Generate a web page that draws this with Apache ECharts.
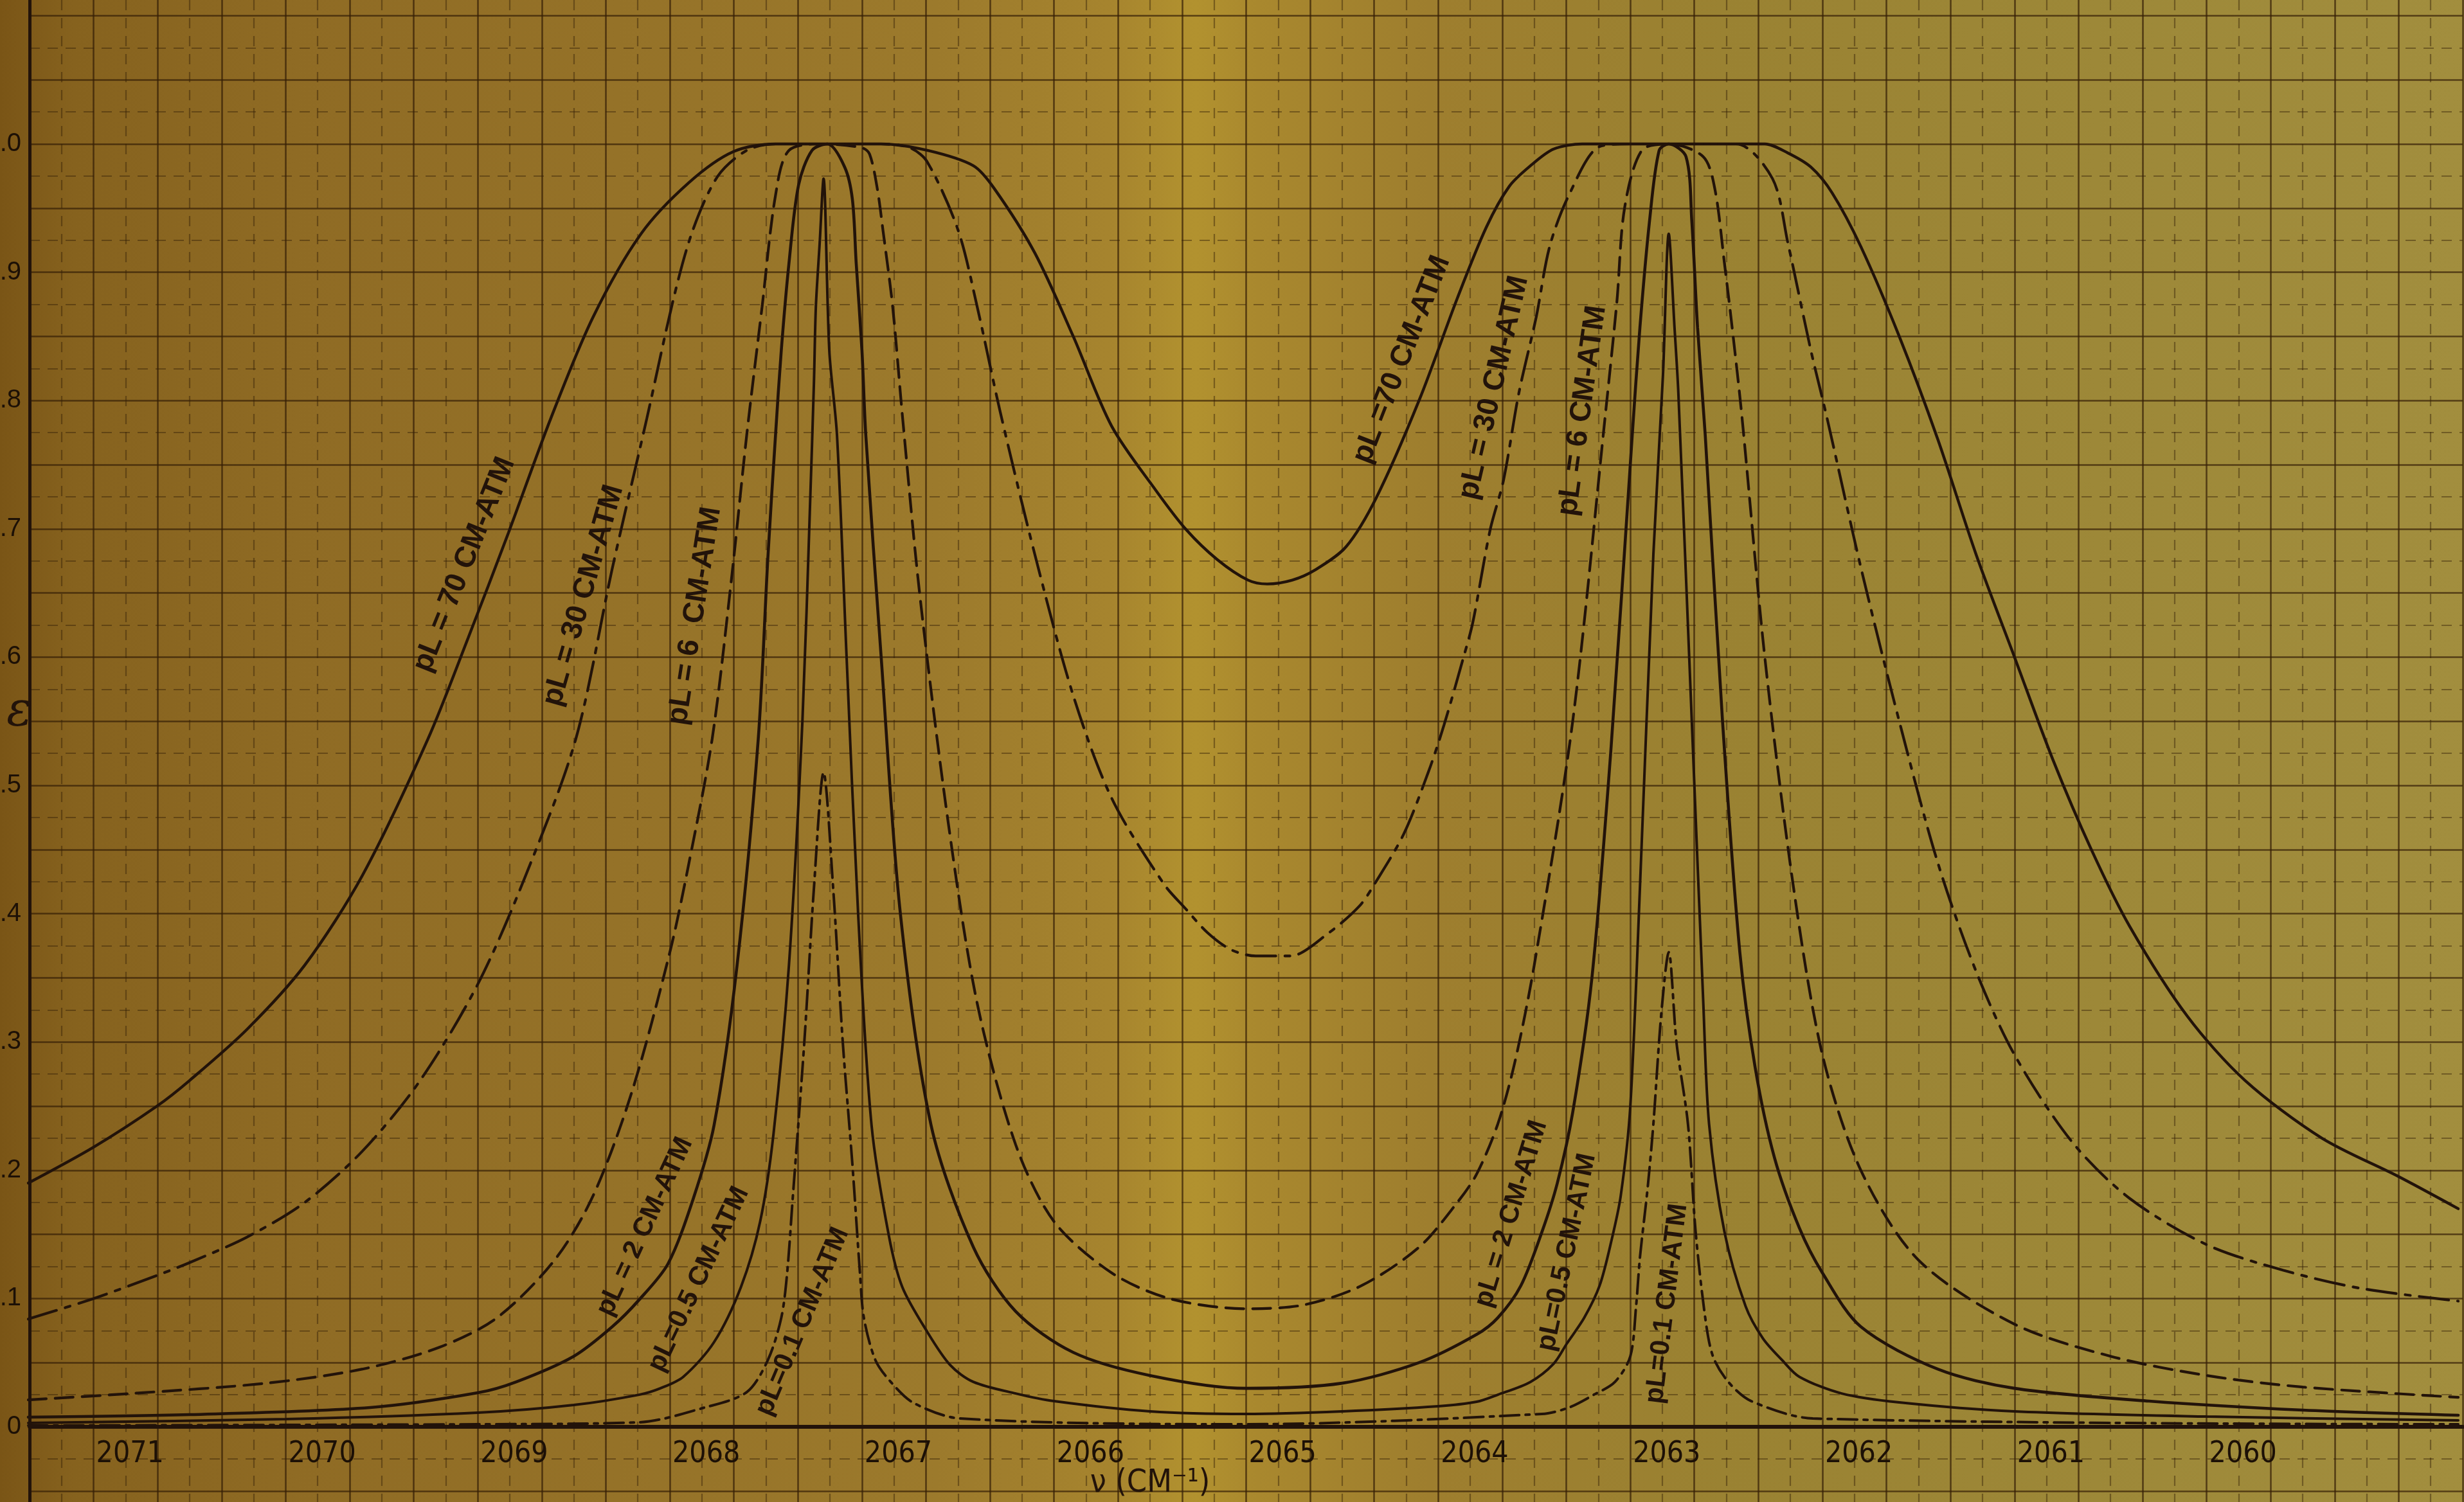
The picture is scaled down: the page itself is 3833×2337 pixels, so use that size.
<!DOCTYPE html>
<html><head><meta charset="utf-8">
<script src="https://cdn.jsdelivr.net/npm/echarts/dist/echarts.min.js"></script>
<style>
html,body{margin:0;padding:0;width:3833px;height:2337px;overflow:hidden;}
#c{width:3833px;height:2337px;background:linear-gradient(90deg,#7a5516 0%,#86621e 3%,#8f6b24 12%,#957228 25%,#9c7a2c 38%,#a6842e 45%,#b2922f 48.5%,#a9882e 51%,#9e7e2e 58%,#9a8232 70%,#9d8838 85%,#a28e3e 100%);}
</style></head><body><div id="c"></div>
<script>
// ---- data (wavenumber cm^-1, emissivity) ----
const wavenumberTicks = [2071,2070,2069,2068,2067,2066,2065,2064,2063,2062,2061,2060];
const emissivityTicks = [0,0.1,0.2,0.3,0.4,0.5,0.6,0.7,0.8,0.9,1.0];
const emissivityTickText = ['0','.1','.2','.3','.4','.5','.6','.7','.8','.9','1.0'];

const pL70 = [[2071.34,0.19],[2071.0,0.218],[2070.67,0.25],[2070.5,0.27],[2070.2,0.31],[2069.9,0.36],[2069.6,0.43],[2069.26,0.536],[2069.05,0.615],[2068.84,0.697],[2068.62,0.786],[2068.4,0.865],[2068.15,0.93],[2067.9,0.97],[2067.67,0.994],[2067.45,1.0],[2066.9,1.0],[2066.66,0.995],[2066.42,0.983],[2066.31,0.965],[2066.1,0.915],[2065.9,0.85],[2065.7,0.78],[2065.47,0.73],[2065.31,0.699],[2065.15,0.676],[2064.99,0.66],[2064.89,0.657],[2064.76,0.66],[2064.64,0.668],[2064.48,0.686],[2064.32,0.725],[2064.1,0.80],[2063.9,0.88],[2063.75,0.935],[2063.63,0.967],[2063.52,0.983],[2063.40,0.996],[2063.25,1.0],[2062.3,1.0],[2062.18,0.993],[2062.06,0.982],[2061.95,0.962],[2061.8,0.92],[2061.6,0.85],[2061.4,0.77],[2061.2,0.68],[2061.0,0.60],[2060.8,0.52],[2060.6,0.45],[2060.4,0.39],[2060.1,0.32],[2059.8,0.27],[2059.4,0.225],[2059.0,0.195],[2058.69,0.17]];

const pL30 = [[2071.34,0.084],[2071.0,0.1],[2070.67,0.118],[2070.5,0.128],[2070.2,0.148],[2069.9,0.175],[2069.6,0.215],[2069.3,0.27],[2069.0,0.345],[2068.75,0.43],[2068.49,0.536],[2068.30,0.669],[2068.12,0.786],[2067.98,0.88],[2067.88,0.933],[2067.75,0.975],[2067.6,0.995],[2067.45,1.0],[2066.9,1.0],[2066.75,0.997],[2066.66,0.986],[2066.50,0.933],[2066.40,0.873],[2066.28,0.791],[2066.1,0.68],[2065.9,0.57],[2065.7,0.49],[2065.43,0.4235],[2065.31,0.403],[2065.20,0.385],[2065.08,0.372],[2064.95,0.367],[2064.77,0.367],[2064.57,0.385],[2064.41,0.406],[2064.33,0.4235],[2064.18,0.462],[2064.05,0.511],[2063.97,0.547],[2063.87,0.599],[2063.82,0.627],[2063.73,0.699],[2063.66,0.738],[2063.58,0.806],[2063.49,0.865],[2063.42,0.92],[2063.32,0.96],[2063.16,0.998],[2063.0,1.0],[2062.45,1.0],[2062.26,0.973],[2062.18,0.923],[2062.06,0.839],[2061.98,0.789],[2061.8,0.67],[2061.6,0.55],[2061.4,0.44],[2061.2,0.355],[2061.0,0.29],[2060.7,0.222],[2060.4,0.178],[2060.0,0.142],[2059.6,0.122],[2059.2,0.108],[2058.69,0.098]];

const pL6 = [[2071.34,0.021],[2070.8,0.026],[2070.1,0.034],[2069.6,0.045],[2069.2,0.062],[2068.9,0.085],[2068.6,0.13],[2068.4,0.18],[2068.2,0.26],[2068.0,0.37],[2067.9,0.44],[2067.78,0.536],[2067.68,0.66],[2067.60,0.773],[2067.52,0.873],[2067.45,0.96],[2067.38,0.995],[2067.2,1.0],[2067.0,0.997],[2066.96,0.992],[2066.92,0.965],[2066.89,0.932],[2066.84,0.873],[2066.79,0.789],[2066.7,0.65],[2066.55,0.47],[2066.4,0.33],[2066.2,0.22],[2066.0,0.16],[2065.7,0.12],[2065.4,0.1],[2065.0,0.092],[2064.7,0.095],[2064.4,0.11],[2064.1,0.14],[2063.9,0.175],[2063.8,0.197],[2063.69,0.236],[2063.6,0.285],[2063.5,0.36],[2063.3,0.55],[2063.13,0.789],[2063.07,0.877],[2063.03,0.95],[2062.94,0.995],[2062.8,1.0],[2062.62,0.99],[2062.56,0.965],[2062.51,0.907],[2062.47,0.857],[2062.42,0.789],[2062.3,0.6],[2062.15,0.42],[2062.0,0.29],[2061.8,0.2],[2061.5,0.13],[2061.0,0.08],[2060.5,0.055],[2060.0,0.04],[2059.5,0.031],[2058.69,0.023]];

const pL2 = [[2071.34,0.0075],[2070.5,0.0095],[2069.56,0.015],[2069.0,0.0265],[2068.8,0.035],[2068.5,0.055],[2068.3,0.078],[2068.16,0.099],[2068.01,0.127],[2067.88,0.177],[2067.77,0.235],[2067.65,0.36],[2067.54,0.536],[2067.49,0.677],[2067.45,0.773],[2067.42,0.839],[2067.38,0.907],[2067.33,0.968],[2067.26,0.995],[2067.18,1.0],[2067.09,0.982],[2067.05,0.957],[2067.03,0.907],[2067.0,0.839],[2066.98,0.773],[2066.9,0.6],[2066.8,0.4],[2066.64,0.235],[2066.42,0.14],[2066.2,0.09],[2065.9,0.058],[2065.5,0.04],[2065.0,0.03],[2064.5,0.034],[2064.1,0.05],[2063.8,0.072],[2063.69,0.085],[2063.57,0.110],[2063.46,0.152],[2063.38,0.19],[2063.30,0.245],[2063.2,0.35],[2063.1,0.53],[2062.99,0.773],[2062.95,0.857],[2062.90,0.94],[2062.85,0.995],[2062.80,1.0],[2062.71,0.99],[2062.68,0.94],[2062.65,0.857],[2062.61,0.773],[2062.52,0.55],[2062.43,0.37],[2062.35,0.28],[2062.25,0.21],[2062.12,0.155],[2062.0,0.12],[2061.8,0.078],[2061.4,0.045],[2061.0,0.03],[2060.3,0.02],[2059.5,0.013],[2058.69,0.009]];

const pL05 = [[2071.34,0.003],[2070.0,0.006],[2069.0,0.011],[2068.5,0.017],[2068.16,0.025],[2068.05,0.03],[2067.93,0.039],[2067.77,0.066],[2067.63,0.109],[2067.53,0.16],[2067.46,0.229],[2067.38,0.36],[2067.31,0.55],[2067.27,0.72],[2067.25,0.814],[2067.24,0.873],[2067.22,0.923],[2067.20,0.973],[2067.17,0.839],[2067.13,0.773],[2067.08,0.6],[2067.02,0.4],[2066.95,0.235],[2066.86,0.149],[2066.79,0.109],[2066.66,0.074],[2066.54,0.048],[2066.42,0.035],[2066.2,0.026],[2066.0,0.02],[2065.5,0.012],[2065.0,0.01],[2064.5,0.012],[2064.0,0.016],[2063.80,0.0195],[2063.69,0.025],[2063.52,0.035],[2063.40,0.049],[2063.33,0.065],[2063.24,0.085],[2063.16,0.11],[2063.10,0.144],[2063.05,0.18],[2063.0,0.25],[2062.95,0.42],[2062.88,0.68],[2062.83,0.82],[2062.80,0.93],[2062.77,0.857],[2062.75,0.806],[2062.68,0.55],[2062.62,0.33],[2062.59,0.236],[2062.51,0.152],[2062.40,0.094],[2062.31,0.069],[2062.21,0.052],[2062.12,0.039],[2061.9,0.026],[2061.6,0.019],[2061.0,0.012],[2060.0,0.008],[2058.69,0.005]];

const pL01 = [[2071.34,0.001],[2069.0,0.002],[2068.16,0.0035],[2067.82,0.015],[2067.60,0.027],[2067.49,0.052],[2067.42,0.085],[2067.39,0.119],[2067.36,0.179],[2067.30,0.3],[2067.25,0.42],[2067.20,0.51],[2067.15,0.42],[2067.10,0.3],[2067.05,0.205],[2067.01,0.119],[2066.99,0.085],[2066.93,0.052],[2066.85,0.035],[2066.73,0.0185],[2066.49,0.0065],[2065.0,0.002],[2063.46,0.010],[2063.32,0.015],[2063.19,0.025],[2063.08,0.035],[2063.0,0.055],[2062.97,0.094],[2062.95,0.132],[2062.91,0.186],[2062.88,0.236],[2062.84,0.32],[2062.80,0.37],[2062.76,0.3],[2062.70,0.236],[2062.66,0.152],[2062.61,0.085],[2062.57,0.055],[2062.49,0.035],[2062.37,0.02],[2062.05,0.0065],[2058.69,0.002]];

// curve annotations: anchor (wavenumber, emissivity), angle in degrees
const curveLabels = [
  {text:'pL = 70 CM-ATM', v:2069.07, e:0.672, angle:68, size:46},
  {text:'pL = 30 CM-ATM', v:2068.45, e:0.648, angle:74, size:46},
  {text:'pL = 6  CM-ATM', v:2067.87, e:0.632, angle:81, size:46},
  {text:'pL = 2 CM-ATM', v:2068.13, e:0.156, angle:65, size:42},
  {text:'pL=0.5 CM-ATM', v:2067.85, e:0.115, angle:64.5, size:42},
  {text:'pL=0.1 CM-ATM', v:2067.31, e:0.082, angle:67, size:42},
  {text:'pL =70 CM-ATM', v:2064.19, e:0.832, angle:68.5, size:46},
  {text:'pL = 30 CM-ATM', v:2063.71, e:0.81, angle:77, size:46},
  {text:'pL = 6 CM-ATM', v:2063.25, e:0.792, angle:82, size:46},
  {text:'pL = 2 CM-ATM', v:2063.62, e:0.166, angle:73, size:42},
  {text:'pL=0.5 CM-ATM', v:2063.33, e:0.136, angle:78, size:42},
  {text:'pL=0.1 CM-ATM', v:2062.81, e:0.096, angle:83, size:42}
];

const ink = '#22130a';
const gridInk = 'rgba(52,30,6,0.72)';
const gridInkMinor = 'rgba(52,30,6,0.45)';
const W = 3833, H = 2337;
const plotLeft = 46, plotRight = 2;           // visible paper edges
const vLeft = 2071.3333, vRight = 2058.6667;  // wavenumbers at the visible edges
const pxPerCm = (W - plotLeft - plotRight) / (vLeft - vRight);
const axMax = 2072, axMin = 2058;             // axis extended past the edges so integer ticks start at min
const gLeft = plotLeft - (axMax - vLeft) * pxPerCm;
const gRight = plotRight - (vRight - axMin) * pxPerCm;
const topPx = 24.4, zeroPx = 2220;

const chart = echarts.init(document.getElementById('c'), null, {renderer:'canvas', width:W, height:H});

function lineSeries(name, data, type, width){
  return {name, type:'line', data, xAxisIndex:0, yAxisIndex:0, showSymbol:false, symbol:'none',
    smooth:0.3, z:5, silent:true, clip:false,
    lineStyle:{color:ink, width:width, type:type, cap:'round'}};
}
const noAxis = {axisLine:{show:false}, axisTick:{show:false}, axisLabel:{show:false}, splitLine:{show:false}};

const option = {
  animation:false,
  backgroundColor:'transparent',
  grid:[
    {left:gLeft, right:gRight, top:topPx, bottom:H - zeroPx, outerBoundsMode:'none', containLabel:false},
    {left:gLeft, right:gRight, top:0, bottom:0, outerBoundsMode:'none', containLabel:false},
    {left:plotLeft, right:plotRight, top:topPx, bottom:17.2, outerBoundsMode:'none', containLabel:false},
    {left:plotLeft, right:plotRight, top:0, bottom:0, outerBoundsMode:'none', containLabel:false}
  ],
  xAxis:[
    {gridIndex:0, type:'value', min:axMin, max:axMax, interval:1, inverse:true,
     axisLine:{show:false}, axisTick:{show:false}, splitLine:{show:false},
     axisLabel:{show:true, align:'left', verticalAlign:'top', margin:20, padding:[0,0,0,4],
       color:'#1c1006', fontSize:46,
       fontFamily:"'Liberation Sans Narrow','DejaVu Sans Condensed','Liberation Sans',sans-serif",
       formatter:function(v){const r=Math.round(v); return wavenumberTicks.indexOf(r)>=0 ? String(r) : '';}}
    },
    Object.assign({gridIndex:1, type:'value', min:0, max:(axMax-axMin)*3, interval:1,
     minorTick:{show:false, splitNumber:2}}, noAxis,
     {splitLine:{show:true, lineStyle:{color:gridInk, width:2.6}},
      minorSplitLine:{show:true, lineStyle:{color:gridInkMinor, width:2.2, type:[16,12]}}}),
    {gridIndex:2, type:'value', min:0, max:1, axisLine:{show:true, onZero:true, lineStyle:{color:ink, width:6}},
     axisTick:{show:false}, axisLabel:{show:false}, splitLine:{show:false}},
    Object.assign({gridIndex:3, type:'value', min:0, max:1}, noAxis)
  ],
  yAxis:[
    Object.assign({gridIndex:0, type:'value', min:0, max:1.1}, noAxis),
    Object.assign({gridIndex:1, type:'value', min:0, max:1}, noAxis),
    {gridIndex:2, type:'value', min:-0.05, max:1.1, interval:0.05,
     axisLine:{show:false}, axisTick:{show:false},
     axisLabel:{show:true, margin:13, color:'#1c1006', fontSize:40,
       fontFamily:"'Liberation Sans','DejaVu Sans',sans-serif",
       formatter:function(v){for(let i=0;i<emissivityTicks.length;i++){if(Math.abs(v-emissivityTicks[i])<1e-6) return emissivityTickText[i];} return '';}},
     splitLine:{show:true, lineStyle:{color:gridInk, width:2.6}},
     minorTick:{show:false, splitNumber:2},
     minorSplitLine:{show:true, lineStyle:{color:gridInkMinor, width:2.2, type:[16,12]}}
    },
    {gridIndex:3, type:'value', min:0, max:1,
     axisLine:{show:true, onZero:false, lineStyle:{color:ink, width:5}}, axisTick:{show:false}, axisLabel:{show:false},
     splitLine:{show:false}}
  ],
  series:[
    lineSeries('pL=70', pL70, 'solid', 4.4),
    lineSeries('pL=30', pL30, [46,14,8,14], 4.2),
    lineSeries('pL=6', pL6, [28,14], 4.2),
    lineSeries('pL=2', pL2, 'solid', 4.6),
    lineSeries('pL=0.5', pL05, 'solid', 4.0),
    lineSeries('pL=0.1', pL01, [30,10,6,10], 4.0)
  ]
};
chart.setOption(option);

// annotations positioned through the chart's own coordinate system
const g = [];
curveLabels.forEach(function(l){
  const p = chart.convertToPixel({gridIndex:0}, [l.v, l.e]);
  g.push({type:'text', x:p[0], y:p[1], rotation:l.angle*Math.PI/180, z:10,
    style:{text:l.text, fill:ink, font:"bold "+l.size+"px 'Liberation Sans','DejaVu Sans',sans-serif", align:'center', verticalAlign:'middle'}});
});
const pn = chart.convertToPixel({gridIndex:2}, [0.5, -0.044]);
const px = chart.convertToPixel({gridIndex:0}, [2065.50, 0]);
g.push({type:'text', x:px[0], y:pn[1], z:10,
  style:{text:'ν (CM⁻¹)', fill:ink, font:"50px 'DejaVu Sans Condensed','Liberation Sans',sans-serif", align:'center', verticalAlign:'middle'}});
const pe = chart.convertToPixel({gridIndex:2}, [0, 0.556]);
g.push({type:'text', x:pe[0]-16, y:pe[1], z:10,
  style:{text:'ε', fill:ink, font:"italic 74px 'DejaVu Serif',serif", align:'center', verticalAlign:'middle'}});
chart.setOption({graphic:g});
</script></body></html>
